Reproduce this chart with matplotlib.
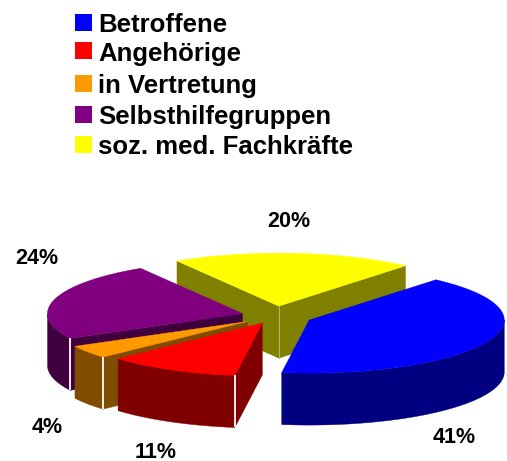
import numpy as np
import matplotlib
matplotlib.use("Agg")
import matplotlib.pyplot as plt
from matplotlib.patches import Polygon, Rectangle

categories = ["Betroffene", "Angehörige", "in Vertretung", "Selbsthilfegruppen", "soz. med. Fachkräfte"]
values = [41, 11, 4, 24, 20]
percent_labels = ["41%", "11%", "4%", "24%", "20%"]

top_colors = ["#0000FF", "#FF0000", "#FF9900", "#800080", "#FFFF00"]
side_colors = ["#000080", "#800000", "#804D00", "#400040", "#808000"]
explode = [0.187, 0.15, 0.18, 0.178, 0.187]
label_xy = [(454, 437), (156, 452), (47, 427), (37, 258), (289, 221)]
legend_y = [22.5, 51, 84, 114, 144]

CX, CY, RX, RY, DEPTH = 276, 316, 195, 53, 52
START = 49.5
FONT = ["Liberation Sans", "DejaVu Sans"]

fig = plt.figure(figsize=(5.07, 4.61), dpi=100)
ax = fig.add_axes([0, 0, 1, 1])
ax.set_xlim(0, 507)
ax.set_ylim(461, 0)
ax.axis("off")


def pt(a, ox, oy, r=1.0):
    return ox + r * RX * np.cos(a), oy - r * RY * np.sin(a)


# angular extents, clockwise from START
spans = np.array(values) / sum(values) * 2 * np.pi
starts = np.radians(START) - np.concatenate([[0], np.cumsum(spans)[:-1]])
ends = starts - spans

# back-to-front painting order
for i in [4, 0, 3, 2, 1]:
    a0, a1 = starts[i], ends[i]
    mid = (a0 + a1) / 2
    ox = CX + explode[i] * RX * np.cos(mid)
    oy = CY - explode[i] * RY * np.sin(mid)
    side, top = side_colors[i], top_colors[i]

    # radial faces that look towards the viewer
    for a, visible in ((a0, np.cos(a0) < 0), (a1, np.cos(a1) > 0)):
        if visible:
            x, y = pt(a, ox, oy)
            ax.add_patch(Polygon([(ox, oy), (x, y), (x, y + DEPTH), (ox, oy + DEPTH)],
                                 closed=True, fc=side, ec=side, lw=0.3))

    # outer rim, front half only
    t = np.linspace(a0, a1, 120)
    front = t[np.sin(t) < 0]
    if front.size:
        xr, yr = pt(front, ox, oy)
        verts = np.column_stack([np.r_[xr, xr[::-1]], np.r_[yr, yr[::-1] + DEPTH]])
        ax.add_patch(Polygon(verts, closed=True, fc=side, ec=side, lw=0.3))

    # white seam between rim and radial face
    if np.cos(a0) < 0 and np.sin(a0) < 0:
        x, y = pt(a0, ox, oy)
        ax.plot([x, x], [y, y + DEPTH], color="white", lw=1.3, solid_capstyle="butt")
    if i == 4:
        ax.plot([ox, ox], [oy, oy + DEPTH], color="#B5B56A", lw=0.7)

    # top face
    xa, ya = pt(t, ox, oy)
    ax.add_patch(Polygon(np.column_stack([np.r_[ox, xa], np.r_[oy, ya]]),
                         closed=True, fc=top, ec=top, lw=0.3))

for txt, (x, y) in zip(percent_labels, label_xy):
    ax.text(x, y, txt, ha="center", va="center", fontsize=15.5, fontweight="bold",
            family=FONT, color="black")

for name, col, y in zip(categories, top_colors, legend_y):
    ax.add_patch(Rectangle((75, y - 8.5), 17, 17, fc=col, ec="none"))
    ax.text(98, y, name, ha="left", va="center_baseline", fontsize=18.5, fontweight="bold",
            family=FONT, color="black")

fig.savefig("out.png", dpi=100, facecolor="white")
